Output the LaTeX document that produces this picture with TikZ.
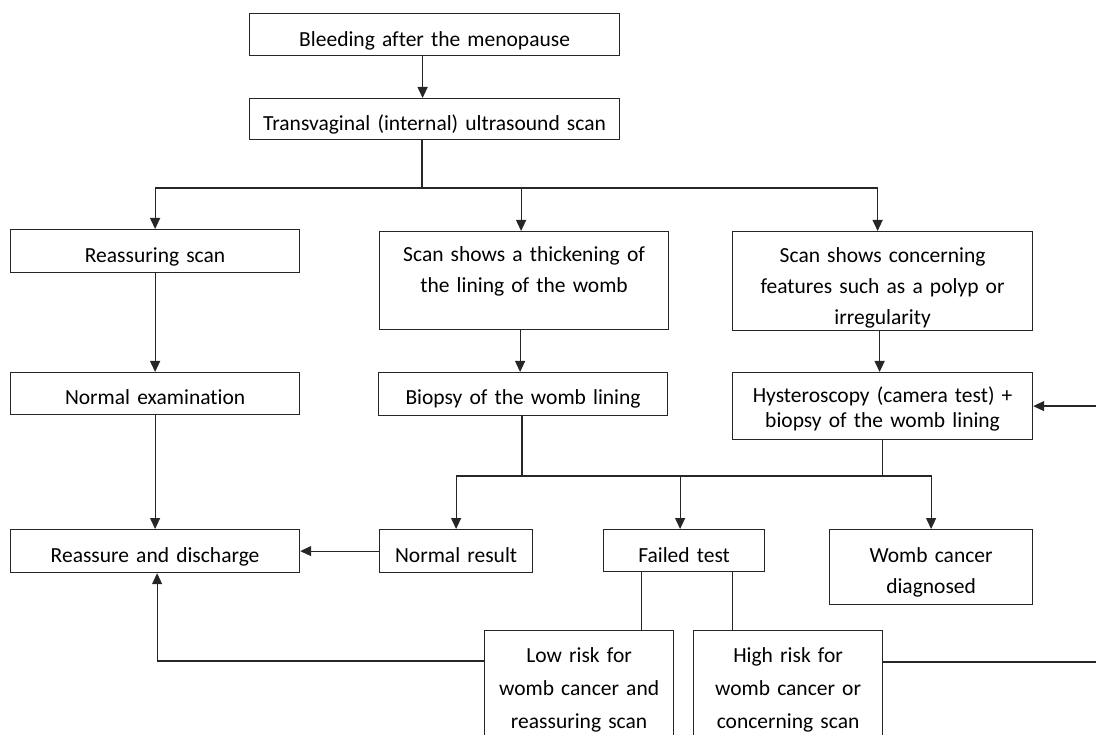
\documentclass[tikz,border=0pt]{standalone}
\usepackage{fontspec}
\setmainfont[Ligatures=NoCommon]{Carlito}
\usetikzlibrary{arrows.meta}

\begin{document}
\begin{tikzpicture}[x=1pt, y=-1pt,
    box/.style={draw=black!85, line width=1.2pt, anchor=north west, inner sep=0pt,
        align=center, font=\fontsize{21.5}{31}\selectfont, text height=33pt},
    conn/.style={draw=black!85, line width=1.2pt},
    arr/.style={conn, -{Triangle[length=11pt,width=10pt]}}]
    \useasboundingbox (0,0) rectangle (1096,735);
    \clip (0,0) rectangle (1096,735);

    % First steps
    \node[box, text width=370pt, text depth=9pt] (bleed) at (249,13) {Bleeding after the menopause};
    \node[box, text width=370pt, text height=32pt, text depth=9pt] (tvus) at (249,98) {Transvaginal (internal) ultrasound scan};

    % Scan outcomes
    \node[box, text width=289pt, text depth=10pt] (reass) at (10,229) {Reassuring scan};
    \node[box, text width=289pt, text height=30pt, text depth=68pt] (thick) at (379,231) {Scan shows a thickening of\\the lining of the womb};
    \node[box, text width=300pt, text height=31pt, text depth=68pt] (conc) at (732,231) {Scan shows concerning\\features such as a polyp or\\irregularity};

    % Second tests
    \node[box, text width=289pt, text height=32pt, text depth=10pt] (normexam) at (10,372) {Normal examination};
    \node[box, text width=289pt, text height=32pt, text depth=11pt] (biopsy) at (378,372) {Biopsy of the womb lining};
    \node[box, text width=300pt, text height=30pt, text depth=37pt, font=\fontsize{21.5}{25}\selectfont] (hyst) at (732,372) {Hysteroscopy (camera test) +\\biopsy of the womb lining};

    % Results
    \node[box, text width=289pt, text depth=10pt] (discharge) at (10,529) {Reassure and discharge};
    \node[box, text width=153pt, text depth=10pt] (normres) at (379,529) {Normal result};
    \node[box, text width=161pt, text depth=9pt] (failed) at (603,529) {Failed test};
    \node[box, text width=203pt, text depth=42pt] (womb) at (829,529) {Womb cancer\\diagnosed};

    % Risk after failed test
    \node[box, text width=189pt, text height=32pt, text depth=78pt, font=\fontsize{21.5}{33}\selectfont] (low) at (484,630) {Low risk for\\womb cancer and\\reassuring scan};
    \node[box, text width=189pt, text height=32pt, text depth=78pt, font=\fontsize{21.5}{33}\selectfont] (high) at (693,630) {High risk for\\womb cancer or\\concerning scan};

    % Connectors
    \coordinate (split1) at (422,188);
    \coordinate (split2) at (522,476);
    \draw[arr] ([xshift=-12pt]bleed.south) -- ([xshift=-12pt]tvus.north);
    \draw[conn] (tvus.south -| split1) -- (split1);
    \draw[arr] (split1) -| (reass.north);
    \draw[arr] (split1) -| ([xshift=-3pt]thick.north);
    \draw[arr] (split1) -| ([xshift=-5pt]conc.north);

    \draw[arr] (reass.south) -- (normexam.north);
    \draw[arr] ([xshift=-4pt]thick.south) -- ([xshift=-4pt]thick.south |- biopsy.north);
    \draw[arr] ([xshift=-3pt]conc.south) -- ([xshift=-3pt]conc.south |- hyst.north);
    \draw[arr] (normexam.south) -- (discharge.north);

    \draw[conn] (biopsy.south -| split2) -- (split2);
    \draw[conn] (hyst.south) -- (hyst.south |- split2);
    \draw[arr] (split2) -| (normres.north);
    \draw[arr] (split2) -| ([xshift=-4pt]failed.north);
    \draw[arr] (split2) -| (womb.north);
    \draw[arr] (normres.west) -- (discharge.east);

    \draw[conn] ([xshift=-43pt]failed.south) -- ([xshift=-43pt]failed.south |- low.north);
    \draw[conn] ([xshift=48pt]failed.south) -- ([xshift=48pt]failed.south |- high.north);
    \draw[arr] ([yshift=-31pt]low.north west) -| ([xshift=2pt]discharge.south);
    \draw[arr] ([yshift=-32pt]high.north east) -- ++(230,0) |- (hyst.east);
\end{tikzpicture}
\end{document}
